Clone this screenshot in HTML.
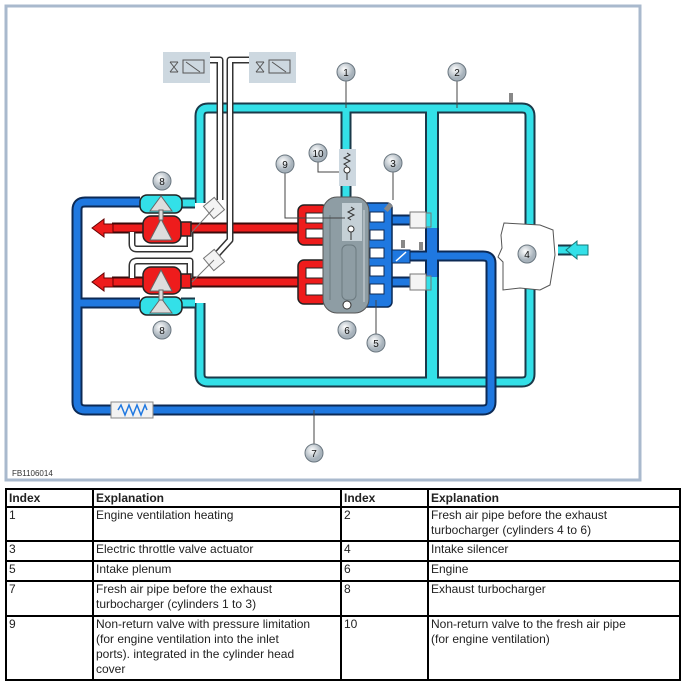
<!DOCTYPE html>
<html><head><meta charset="utf-8"><style>
body{margin:0;background:#fff;width:683px;height:685px;overflow:hidden;font-family:"Liberation Sans",sans-serif}
#d{position:absolute;left:0;top:0}
table{position:absolute;left:5px;top:488px;width:676px;border-collapse:collapse;font-size:12px;font-family:"Liberation Sans",sans-serif;color:#222;table-layout:fixed}
td{border:2px solid #000;vertical-align:top;padding:0 2px;line-height:15px;white-space:nowrap;overflow:hidden}
th{border:2px solid #000;text-align:left;padding:0 2px;font-size:12px;height:16px}
</style></head><body>
<svg id="d" width="683" height="490" viewBox="0 0 683 490">
<rect x="6" y="6" width="634" height="474" fill="#fff" stroke="#a9b9cd" stroke-width="3"/>
<g fill="none" stroke-linejoin="round">
<g stroke="#1a3a4a" stroke-width="11">
<path d="M200 203 V116 Q200 108 208 108 H522 Q530 108 530 116 V374 Q530 382 522 382 H208 Q200 382 200 374 V303"/>
<path d="M346 108 V150"/><path d="M346 186 V198"/>
<path d="M181 203 H195"/><path d="M181 303 H195"/>
<path d="M558 250 H572"/>
</g>
<path d="M432 108 V382" stroke="#1a3a4a" stroke-width="14"/>
<g stroke="#33e0e8" stroke-width="7">
<path d="M200 203 V116 Q200 108 208 108 H522 Q530 108 530 116 V374 Q530 382 522 382 H208 Q200 382 200 374 V303"/>
<path d="M346 108 V150"/><path d="M346 186 V198"/>
<path d="M181 203 H195"/><path d="M181 303 H195"/>
<path d="M558 250 H572"/>
</g>
<path d="M432 108 V382" stroke="#33e0e8" stroke-width="10"/>
<g stroke="#0c2a55" stroke-width="11">
<path d="M140 202 H85 Q77 202 77 210 V402 Q77 410 85 410 H483 Q491 410 491 402 V263 Q491 256 483 256 H392"/>
<path d="M77 303 H140"/>
<path d="M390 220 H420"/><path d="M390 282 H420"/>
</g>
<path d="M432 228 V277" stroke="#0c2a55" stroke-width="14"/>
<g stroke="#1f78e0" stroke-width="7">
<path d="M140 202 H85 Q77 202 77 210 V402 Q77 410 85 410 H483 Q491 410 491 402 V263 Q491 256 483 256 H392"/>
<path d="M77 303 H140"/>
<path d="M390 220 H420"/><path d="M390 282 H420"/>
</g>
<path d="M432 228 V277" stroke="#1f78e0" stroke-width="10"/>
<g stroke="#3a0a0a" stroke-width="11">
<path d="M112 228 H310"/><path d="M112 282 H310"/>
</g>
<g stroke="#ee1c1c" stroke-width="7">
<path d="M110 228 H310"/><path d="M110 282 H310"/>
</g>
<g stroke="#333" stroke-width="7"><path d="M132 232 V244 Q132 249 137 249 H190 V232"/><path d="M132 278 V266 Q132 261 137 261 H190 V278"/>
<path d="M210 60 H220 V200"/><path d="M252 60 H230 V240 L210 262"/></g>
<g stroke="#fff" stroke-width="4"><path d="M132 232 V244 Q132 249 137 249 H190 V232"/><path d="M132 278 V266 Q132 261 137 261 H190 V278"/>
<path d="M210 60 H220 V200"/><path d="M252 60 H230 V240 L210 262"/></g>
</g>
<polygon points="92,228 104,219 104,224 113,224 113,233 104,233 104,237" fill="#ee1c1c" stroke="#600" stroke-width="1"/>
<polygon points="92,282 104,273 104,278 113,278 113,287 104,287 104,291" fill="#ee1c1c" stroke="#600" stroke-width="1"/>
<polygon points="566,250 577,241 577,245 588,245 588,255 577,255 577,259" fill="#33e0e8" stroke="#177" stroke-width="1"/>
<g stroke="#222" stroke-width="1.5">
<rect x="140" y="195" width="42" height="18" rx="7" fill="#33e0e8"/>
<rect x="140" y="297" width="42" height="18" rx="7" fill="#33e0e8"/>
<rect x="143" y="216" width="38" height="27" rx="8" fill="#ee1c1c"/>
<rect x="143" y="267" width="38" height="27" rx="8" fill="#ee1c1c"/>
<rect x="181" y="222" width="10" height="14" fill="#ee1c1c"/><rect x="181" y="274" width="10" height="14" fill="#ee1c1c"/>
</g>
<g fill="#ddd" stroke="#666" stroke-width="1">
<polygon points="161,196 150,211 172,211"/><polygon points="161,219 150,240 172,240"/>
<polygon points="161,270 150,291 172,291"/><polygon points="161,298 150,313 172,313"/>
<rect x="159" y="210" width="4" height="10"/><rect x="159" y="290" width="4" height="10"/>
</g>
<g fill="#f4f4f4" stroke="#777" stroke-width="1">
<rect x="207" y="200" width="14" height="16" transform="rotate(-40 214 208)"/>
<rect x="207" y="252" width="14" height="16" transform="rotate(-40 214 260)"/>
<line x1="214" y1="208" x2="192" y2="232"/><line x1="214" y1="260" x2="192" y2="282"/>
</g>
<g stroke="#555" stroke-width="1" fill="none">
<rect x="163" y="52" width="47" height="31" fill="#cdd8e0" stroke="none"/>
<rect x="249" y="52" width="47" height="31" fill="#cdd8e0" stroke="none"/>
<rect x="183" y="60" width="21" height="13"/><line x1="186" y1="62" x2="200" y2="72"/>
<path d="M170 62 L178 72 M170 72 L178 62 M170 62 H178 M170 72 H178"/>
<rect x="269" y="60" width="21" height="13"/><line x1="272" y1="62" x2="286" y2="72"/>
<path d="M256 62 L264 72 M256 72 L264 62 M256 62 H264 M256 72 H264"/>
</g>
<rect x="339" y="149" width="17" height="37" fill="#cdd8e0"/>
<path d="M347 153 l3 2 -6 3 6 3 -6 3 3 2 M347 166 V180" stroke="#333" fill="none"/><circle cx="347" cy="170" r="3" fill="#fff" stroke="#333"/>
<g fill="#ee1c1c" stroke="#222" stroke-width="1.5">
<rect x="298" y="205" width="30" height="40" rx="6"/><rect x="298" y="260" width="30" height="44" rx="6"/>
</g>
<g fill="#fff" stroke="#222"><rect x="306" y="213" width="22" height="10"/><rect x="306" y="229" width="22" height="9"/>
<rect x="306" y="268" width="22" height="10"/><rect x="306" y="284" width="22" height="11"/></g>
<rect x="360" y="203" width="32" height="104" rx="5" fill="#1f78e0" stroke="#0c2a55" stroke-width="1.5"/>
<g fill="#fff" stroke="#0c2a55"><rect x="370" y="212" width="14" height="10"/><rect x="370" y="230" width="14" height="10"/><rect x="370" y="248" width="14" height="10"/><rect x="370" y="266" width="14" height="10"/><rect x="370" y="284" width="14" height="10"/></g>
<rect x="392" y="250" width="18" height="13" fill="#1f78e0" stroke="#0c2a55"/>
<line x1="396" y1="261" x2="406" y2="252" stroke="#fff" stroke-width="1.5"/>
<rect x="323" y="197" width="46" height="116" rx="14" fill="#8e9da4" stroke="#555" stroke-width="1"/>
<rect x="342" y="203" width="20" height="38" fill="#c5d0d6"/>
<path d="M351 207 l3 2 -6 3 6 3 -6 3 3 2 M351 226 V240" stroke="#333" fill="none"/><circle cx="351" cy="229" r="3" fill="#fff" stroke="#333"/>
<g fill="none" stroke="#6c7a80"><rect x="342" y="245" width="14" height="55" rx="5"/><line x1="330" y1="215" x2="330" y2="300"/><line x1="364" y1="210" x2="364" y2="302" stroke="#d0d8dc"/></g>
<circle cx="347" cy="305" r="4" fill="#fff" stroke="#333"/>
<g fill="#f4f4f4" stroke="#777"><rect x="410" y="212" width="16" height="16"/><rect x="410" y="274" width="16" height="16"/><rect x="426" y="213" width="5" height="14" fill="#33e0e8"/><rect x="426" y="276" width="5" height="14" fill="#33e0e8"/></g>
<rect x="386" y="203" width="5" height="8" fill="#888" transform="rotate(40 388 207)"/>
<rect x="401" y="240" width="4" height="8" fill="#888"/><rect x="419" y="242" width="4" height="8" fill="#888"/>
<rect x="509" y="93" width="4" height="10" fill="#888"/>
<rect x="111" y="402" width="42" height="16" fill="#f2f2f2" stroke="#888"/>
<path d="M118 410 l3 -5 4 10 4 -10 4 10 4 -10 4 10 4 -10 2 5" stroke="#1f78e0" fill="none" stroke-width="1.5"/>
<path d="M504 223 L540 225 L553 230 L555 255 L550 285 L540 290 L520 288 L503 290 L503 262 L498 257 L502 248 L501 235 Z" fill="#fff" stroke="#555"/>
<g stroke="#444" fill="none"><path d="M346 80 V108"/><path d="M457 80 V108"/><path d="M393 171 V200"/><path d="M318 161 V172 H339"/><path d="M285 172 V218 H345"/><path d="M376 335 V300"/><path d="M314 445 V410"/></g>
<defs><radialGradient id="g" cx="40%" cy="35%"><stop offset="0" stop-color="#fff"/><stop offset="1" stop-color="#a7b2bb"/></radialGradient></defs>
<g font-family="Liberation Sans,sans-serif" font-size="10" text-anchor="middle" fill="#111">
<g stroke="#6b7780" fill="url(#g)">
<circle cx="346" cy="72" r="9"/><circle cx="457" cy="72" r="9"/><circle cx="393" cy="163" r="9"/><circle cx="527" cy="254" r="9"/>
<circle cx="376" cy="343" r="9"/><circle cx="347" cy="330" r="9"/><circle cx="314" cy="453" r="9"/><circle cx="162" cy="181" r="9"/>
<circle cx="162" cy="330" r="9"/><circle cx="285" cy="164" r="9"/><circle cx="318" cy="153" r="9"/></g>
<text x="346" y="76">1</text><text x="457" y="76">2</text><text x="393" y="167">3</text><text x="527" y="258">4</text>
<text x="376" y="347">5</text><text x="347" y="334">6</text><text x="314" y="457">7</text><text x="162" y="185">8</text>
<text x="162" y="334">8</text><text x="285" y="168">9</text><text x="318" y="157">10</text>
</g>
<text x="12" y="476" font-size="8" fill="#333" font-family="Liberation Sans,sans-serif">FB1106014</text>
</svg>
<table>
<colgroup><col style="width:87px"><col style="width:248px"><col style="width:87px"><col></colgroup>
<tr><th>Index</th><th>Explanation</th><th>Index</th><th>Explanation</th></tr>
<tr style="height:34px"><td>1</td><td>Engine ventilation heating</td><td>2</td><td>Fresh air pipe before the exhaust<br>turbocharger (cylinders 4 to 6)</td></tr>
<tr style="height:20px"><td>3</td><td>Electric throttle valve actuator</td><td>4</td><td>Intake silencer</td></tr>
<tr style="height:20px"><td>5</td><td>Intake plenum</td><td>6</td><td>Engine</td></tr>
<tr style="height:35px"><td>7</td><td>Fresh air pipe before the exhaust<br>turbocharger (cylinders 1 to 3)</td><td>8</td><td>Exhaust turbocharger</td></tr>
<tr style="height:64px"><td>9</td><td>Non-return valve with pressure limitation<br>(for engine ventilation into the inlet<br>ports). integrated in the cylinder head<br>cover</td><td>10</td><td>Non-return valve to the fresh air pipe<br>(for engine ventilation)</td></tr>
</table>
</body></html>
